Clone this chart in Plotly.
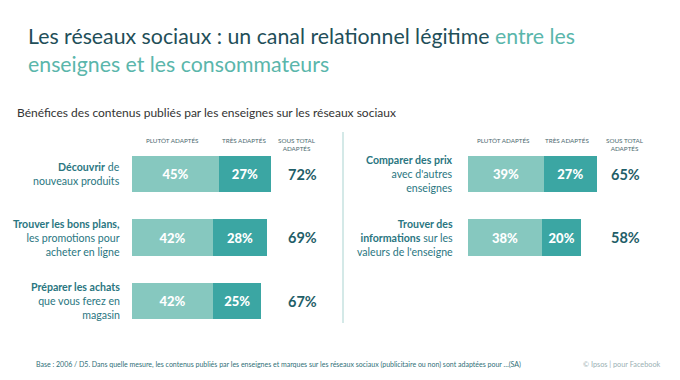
import plotly.graph_objects as go

# ---- data ----
left_labels = ["<b>Découvrir</b> de<br>nouveaux produits",
               "<b>Trouver les bons plans,</b><br>les promotions pour<br>acheter en ligne",
               "<b>Préparer les achats</b><br>que vous ferez en<br>magasin"]
left_plutot = [45, 42, 42]
left_tres = [27, 28, 25]
left_total = [72, 69, 67]

right_labels = ["<b>Comparer des prix</b><br>avec d'autres<br>enseignes",
                "<b>Trouver des<br>informations</b> sur les<br>valeurs de l'enseigne"]
right_plutot = [39, 38]
right_tres = [27, 20]
right_total = [65, 58]

col_headers = ["PLUTÔT ADAPTÉS", "TRÈS ADAPTÉS", "SOUS TOTAL<br>ADAPTÉS"]

LIGHT = "#86c8bf"
DARK = "#3ba6a3"
TXT = "#1f5e68"
FONT = "Lato"

W, H = 680, 380
fig = go.Figure()

ydom = [1 - 332.75 / H, 1 - 142.25 / H]

def add_panel(labels, plutot, tres, total, xa, ya):
    cats = list(range(len(labels)))
    for vals, col in ((plutot, LIGHT), (tres, DARK)):
        fig.add_trace(go.Bar(y=cats, x=vals, orientation="h", marker_color=col,
                             marker_line_width=0, width=0.57,
                             text=[f"{v}%" for v in vals], textposition="inside",
                             insidetextanchor="middle",
                             textfont=dict(color="white", size=13, family=FONT + " Black"),
                             xaxis=xa, yaxis=ya, hoverinfo="skip"))
    return cats

lc = add_panel(left_labels, left_plutot, left_tres, left_total, "x", "y")
rc = add_panel(right_labels, right_plutot, right_tres, right_total, "x2", "y2")

fig.update_layout(
    width=W, height=H, margin=dict(l=0, r=0, t=0, b=0),
    paper_bgcolor="white", plot_bgcolor="white",
    barmode="stack", showlegend=False,
    font=dict(family=FONT, color=TXT),
    xaxis=dict(domain=[132 / W, (132 + 193) / W], range=[0, 100], visible=False, fixedrange=True),
    yaxis=dict(domain=ydom, range=[2.5, -0.5], visible=False, fixedrange=True),
    xaxis2=dict(domain=[468 / W, (468 + 195) / W], range=[0, 100], visible=False, fixedrange=True),
    yaxis2=dict(domain=ydom, range=[2.5, -0.5], visible=False, fixedrange=True, anchor="x2"),
)

ann = []
# title
ann.append(dict(x=26 / W, y=1 - 21 / H, xref="paper", yref="paper", xanchor="left", yanchor="top",
                align="left", showarrow=False,
                text="<span style='color:#1f4f59'>Les réseaux sociaux : un canal relationnel légitime</span> "
                     "<span style='color:#5ab6ab'>entre les<br>enseignes et les consommateurs</span>",
                font=dict(size=21.3, family=FONT)))
ann.append(dict(x=15 / W, y=1 - 113 / H, xref="paper", yref="paper", xanchor="left", yanchor="middle",
                showarrow=False, text="Bénéfices des contenus publiés par les enseignes sur les réseaux sociaux",
                font=dict(size=12, color="#333333", family=FONT)))

def panel_annots(labels, total, cats, ya, label_x, head_x, tot_x):
    for i, c in enumerate(cats):
        ann.append(dict(x=label_x / W, y=c, xref="paper", yref=ya, xanchor="right", yanchor="middle",
                        align="right", showarrow=False, text=labels[i],
                        font=dict(size=10.6, color="#2a7681", family=FONT)))
        ann.append(dict(x=tot_x / W, y=c, xref="paper", yref=ya, xanchor="center", yanchor="middle",
                        showarrow=False, text=f"<b>{total[i]}%</b>",
                        font=dict(size=14.5, color=TXT, family=FONT)))
    for h, hx in zip(col_headers, head_x):
        ann.append(dict(x=hx / W, y=1 - 135 / H, xref="paper", yref="paper", xanchor="center", yanchor="top",
                        showarrow=False, text=h, font=dict(size=6.3, color="#4d6a70", family=FONT)))

panel_annots(left_labels, left_total, lc, "y", 122, [172, 244, 297], 302)
panel_annots(right_labels, right_total, rc, "y2", 455, [503, 567, 625], 625)

ann.append(dict(x=34 / W, y=1 - 364 / H, xref="paper", yref="paper", xanchor="left", yanchor="middle",
                showarrow=False,
                text="Base : 2006 / D5. Dans quelle mesure, les contenus publiés par les enseignes et marques sur les réseaux sociaux (publicitaire ou non) sont adaptées pour …(SA)",
                font=dict(size=7, color="#2f6f78", family=FONT)))
ann.append(dict(x=663 / W, y=1 - 364 / H, xref="paper", yref="paper", xanchor="right", yanchor="middle",
                showarrow=False, text="© Ipsos | pour Facebook",
                font=dict(size=7.3, color="#9ab0b3", family=FONT)))

fig.update_layout(annotations=ann)
fig.add_shape(type="line", xref="paper", yref="paper", x0=343 / W, x1=343 / W,
              y0=1 - 132 / H, y1=1 - 323 / H, line=dict(color="#a9d3d0", width=1))

fig.write_html("out.html", config={"displayModeBar": False},
               post_script="document.body.style.margin='0';document.body.style.overflow='hidden';")
